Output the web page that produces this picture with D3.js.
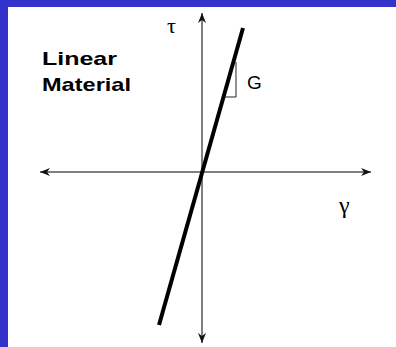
<!DOCTYPE html>
<html>
<head>
<meta charset="utf-8">
<script src="https://cdn.jsdelivr.net/npm/d3@7"></script>
<style>
  body { margin: 0; background: #fff; }
  svg { display: block; }
</style>
</head>
<body>
<svg id="chart"></svg>
<script>
// axis extents (gamma horizontal, tau vertical), in drawing units
const gammaExtent = [-162, 169];
const tauExtent = [-171, 159];
// linear material response line
const lineGamma = [-43, 41];
const lineTau = [-153, 144];
// slope triangle G
const triGamma = [23, 34, 34];
const triTau = [75, 75, 110];
const titleLines = ["Linear", "Material"];

const W = 396, H = 347;
const svg = d3.select("#chart").attr("width", W).attr("height", H);

// frame
svg.append("rect").attr("width", W).attr("height", H).attr("fill", "#3333cc");
svg.append("rect").attr("x", 8).attr("y", 7).attr("width", W - 8).attr("height", H - 7).attr("fill", "#fff");

const x = d3.scaleLinear().domain(gammaExtent).range([40, 371]);
const y = d3.scaleLinear().domain(tauExtent).range([343, 13]);

const defs = svg.append("defs");
defs.append("marker")
    .attr("id", "arrow")
    .attr("viewBox", "0 0 10 10")
    .attr("refX", 10).attr("refY", 5)
    .attr("markerWidth", 10).attr("markerHeight", 10)
    .attr("markerUnits", "userSpaceOnUse")
    .attr("orient", "auto-start-reverse")
  .append("path")
    .attr("d", "M0,1 L10,5 L0,9 L3,5 Z")
    .attr("fill", "#111");

const axisColor = "#808080";
// horizontal axis
svg.append("line")
    .attr("x1", x(gammaExtent[0])).attr("x2", x(gammaExtent[1]))
    .attr("y1", y(0)).attr("y2", y(0))
    .attr("stroke", axisColor).attr("stroke-width", 2)
    .attr("marker-start", "url(#arrow)").attr("marker-end", "url(#arrow)");
// vertical axis
svg.append("line")
    .attr("x1", x(0)).attr("x2", x(0))
    .attr("y1", y(tauExtent[0])).attr("y2", y(tauExtent[1]))
    .attr("stroke", axisColor).attr("stroke-width", 2)
    .attr("marker-start", "url(#arrow)").attr("marker-end", "url(#arrow)");

// material line
const pts = lineGamma.map((g, i) => [g, lineTau[i]]);
svg.append("path")
    .datum(pts)
    .attr("d", d3.line().x(d => x(d[0])).y(d => y(d[1])))
    .attr("fill", "none")
    .attr("stroke", "#000")
    .attr("stroke-width", 4);

// slope triangle
const tri = triGamma.map((g, i) => [g, triTau[i]]);
svg.append("path")
    .datum(tri)
    .attr("d", d3.line().x(d => x(d[0])).y(d => y(d[1])))
    .attr("fill", "none")
    .attr("stroke", "#222")
    .attr("stroke-width", 1);

svg.append("text")
    .attr("x", x(34) + 11).attr("y", y(75) - 8)
    .attr("font-family", "Liberation Sans, Arial, sans-serif")
    .attr("font-size", 19)
    .attr("fill", "#000")
    .text("G");

// axis symbols
svg.append("text")
    .attr("x", 167).attr("y", 33)
    .attr("font-family", "Liberation Serif, Times New Roman, serif")
    .attr("font-size", 22)
    .text("τ");
svg.append("text")
    .attr("x", 339).attr("y", 213)
    .attr("font-family", "Liberation Serif, Times New Roman, serif")
    .attr("font-size", 24)
    .text("γ");

// title
const widths = [75, 89];
svg.selectAll("text.title")
    .data(titleLines)
    .join("text")
    .attr("class", "title")
    .attr("x", 42)
    .attr("y", (d, i) => 65 + i * 26)
    .attr("font-family", "Liberation Sans, Arial, sans-serif")
    .attr("font-weight", "bold")
    .attr("font-size", 19)
    .attr("textLength", (d, i) => widths[i])
    .attr("lengthAdjust", "spacingAndGlyphs")
    .text(d => d);
</script>
</body>
</html>
